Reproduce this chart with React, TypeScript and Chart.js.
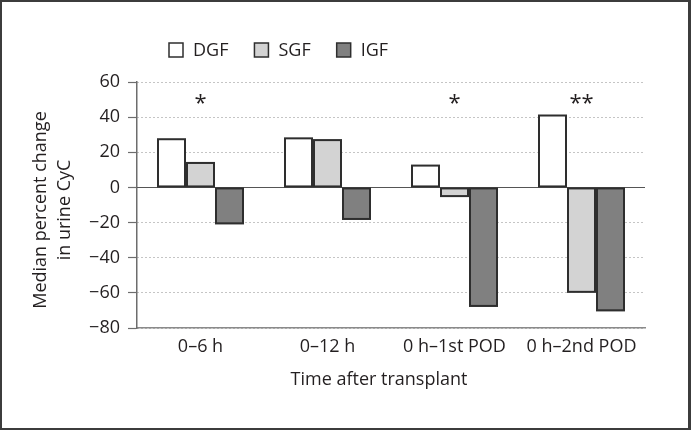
import { useEffect, useRef } from 'react';
import { Chart, registerables } from 'chart.js';

Chart.register(...registerables);

const categories = ['0–6 h', '0–12 h', '0 h–1st POD', '0 h–2nd POD'];
const seriesNames = ['DGF', 'SGF', 'IGF'];
const dgf = [28, 28.5, 13, 41.5];
const sgf = [14.5, 27.5, -5.5, -60];
const igf = [-21, -18.5, -68, -70.5];
const significance = ['*', '', '*', '**'];
const significanceLevel = 49;
const yTicks = [-80, -60, -40, -20, 0, 20, 40, 60];
const yTitle = ['Median percent change', 'in urine CyC'];
const xTitle = 'Time after transplant';

const FONT = '"Open Sans", "Noto Sans", sans-serif';
const TEXT = '#231f20';
const BAR_BORDER = '#2e2e2e';

const zeroLinePlugin = {
  id: 'zeroLine',
  beforeDatasetsDraw(chart: any) {
    const { ctx, chartArea, scales } = chart;
    const y = Math.round(scales.y.getPixelForValue(0)) + 0.5;
    ctx.save();
    ctx.strokeStyle = '#555555';
    ctx.lineWidth = 1.2;
    ctx.setLineDash([]);
    ctx.beginPath();
    ctx.moveTo(chartArea.left, y);
    ctx.lineTo(chartArea.right, y);
    ctx.stroke();
    ctx.restore();
  },
};

// Outlines each bar element using the geometry Chart.js computed for it.
const barBorderPlugin = {
  id: 'barBorders',
  afterDatasetsDraw(chart: any) {
    const { ctx, scales } = chart;
    const z = scales.y.getPixelForValue(0);
    ctx.save();
    ctx.strokeStyle = BAR_BORDER;
    ctx.lineWidth = 2;
    ctx.setLineDash([]);
    chart.data.datasets.forEach((_: any, i: number) => {
      chart.getDatasetMeta(i).data.forEach((el: any) => {
        const { x, y, width } = el.getProps(['x', 'y', 'width'], true);
        const left = x - width / 2;
        const top = Math.min(y, z);
        const h = Math.abs(y - z);
        ctx.strokeRect(left + 1, top + 1, width - 2, Math.max(h - 2, 0));
      });
    });
    ctx.restore();
  },
};

const legendPlugin = {
  id: 'customLegend',
  afterDraw(chart: any) {
    const { ctx } = chart;
    ctx.save();
    ctx.font = `18px ${FONT}`;
    ctx.textAlign = 'left';
    ctx.textBaseline = 'middle';
    let x = 169;
    const yc = 50;
    chart.data.datasets.forEach((ds: any) => {
      ctx.fillStyle = ds.backgroundColor;
      ctx.fillRect(x, yc - 7, 14, 14);
      ctx.strokeStyle = BAR_BORDER;
      ctx.lineWidth = 1.5;
      ctx.strokeRect(x, yc - 7, 14, 14);
      ctx.fillStyle = TEXT;
      ctx.fillText(ds.label, x + 24, yc + 1);
      const w = ctx.measureText(ds.label).width;
      x += 24 + w + 26;
    });
    ctx.restore();
  },
};

const titlesPlugin = {
  id: 'axisTitles',
  afterDraw(chart: any) {
    const { ctx, chartArea } = chart;
    ctx.save();
    ctx.font = `18px ${FONT}`;
    ctx.fillStyle = TEXT;
    ctx.textAlign = 'center';
    ctx.textBaseline = 'middle';
    ctx.fillText(xTitle, 379, 380);
    ctx.translate(41, (chartArea.top + chartArea.bottom) / 2 + 5);
    ctx.rotate(-Math.PI / 2);
    yTitle.forEach((line, i) => ctx.fillText(line, 0, i * 24));
    ctx.restore();
  },
};

const significancePlugin = {
  id: 'significance',
  afterDatasetsDraw(chart: any) {
    const { ctx, scales } = chart;
    ctx.save();
    ctx.font = `22px ${FONT}`;
    ctx.fillStyle = TEXT;
    ctx.textAlign = 'center';
    ctx.textBaseline = 'middle';
    significance.forEach((s, i) => {
      if (!s) return;
      ctx.fillText(s, scales.x.getPixelForValue(i), scales.y.getPixelForValue(significanceLevel) + 2);
    });
    ctx.restore();
  },
};

export default function App() {
  const ref = useRef<HTMLCanvasElement | null>(null);

  useEffect(() => {
    document.body.style.margin = '0';
    if (!ref.current) return;
    const font = { family: FONT, size: 18 };
    const barCommon = {
      borderWidth: 0,
      categoryPercentage: 87 / 127,
      barPercentage: 1.0,
      inflateAmount: 0,
    };
    const chart = new Chart(ref.current, {
      type: 'bar',
      data: {
        labels: categories,
        datasets: [
          { label: seriesNames[0], data: dgf, backgroundColor: '#ffffff', ...barCommon },
          { label: seriesNames[1], data: sgf, backgroundColor: '#d3d3d3', ...barCommon },
          { label: seriesNames[2], data: igf, backgroundColor: '#808080', ...barCommon },
        ] as any,
      },
      options: {
        responsive: false,
        animation: false,
        layout: { padding: { top: 82, left: 2, right: 46, bottom: 0 } },
        plugins: {
          legend: { display: false },
          tooltip: { enabled: false },
        },
        scales: {
          x: {
            grid: { display: false, drawTicks: false },
            border: { display: true, color: '#8a8a8a', width: 1.5 },
            ticks: { font, color: TEXT, padding: 8, maxRotation: 0, autoSkip: false },
            afterFit: (scale: any) => { scale.height = 102; },
          },
          y: {
            min: -80,
            max: 60,
            afterBuildTicks: (scale: any) => { scale.ticks = yTicks.map((v) => ({ value: v })); },
            ticks: {
              font,
              color: TEXT,
              padding: 8,
              callback: (v: any) => String(v).replace('-', '−'),
            },
            grid: {
              color: (c: any) => (c.tick && c.tick.value === 0 ? 'rgba(0,0,0,0)' : '#8a8a8a'),
              lineWidth: 1,
              borderDash: [1, 3],
              tickColor: '#6d6d6d',
              tickLength: 9,
              tickWidth: 1.2,
              tickBorderDash: [],
            } as any,
            border: { display: true, color: '#6d6d6d', width: 1.5, dash: [1, 3] },
            afterFit: (scale: any) => { scale.width = 135; },
          },
        },
      },
      plugins: [zeroLinePlugin, barBorderPlugin, legendPlugin, significancePlugin, titlesPlugin],
    });
    return () => chart.destroy();
  }, []);

  return (
    <div style={{ position: 'relative', width: 691, height: 430, background: '#ffffff' }}>
      <canvas ref={ref} width={691} height={430} style={{ position: 'absolute', left: 0, top: 0 }} />
      <div
        style={{
          position: 'absolute',
          left: 0,
          top: 0,
          width: 691,
          height: 430,
          boxSizing: 'border-box',
          borderStyle: 'solid',
          borderColor: '#3c3c3c',
          borderWidth: '2px 3px 2px 2px',
          pointerEvents: 'none',
        }}
      />
    </div>
  );
}
